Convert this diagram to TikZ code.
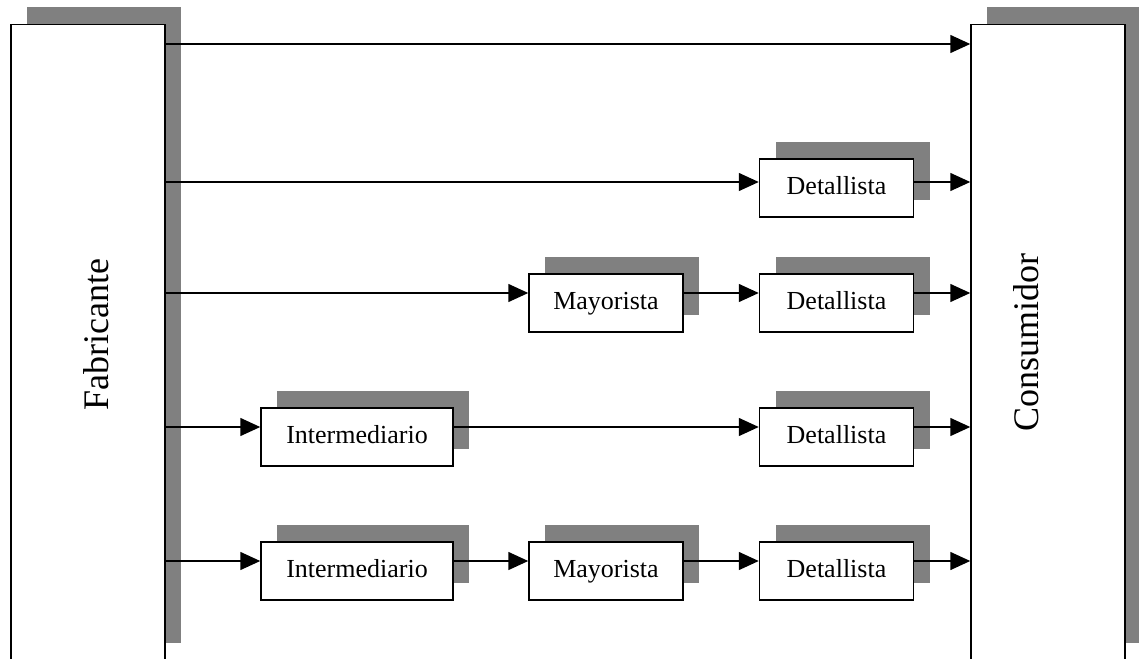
\documentclass[tikz,border=0pt]{standalone}
\usepackage{fontspec}
\setmainfont{Liberation Serif}
\usetikzlibrary{arrows.meta,shadows}
\definecolor{shadowgray}{RGB}{128,128,128}
\begin{document}
\begin{tikzpicture}[x=1pt,y=-1pt,
  box/.style={draw=black, line width=1.5pt, fill=white, inner sep=0pt,
    font=\fontsize{26}{30}\selectfont,
    drop shadow={shadow xshift=16pt, shadow yshift=17pt, fill=shadowgray, opacity=1, draw=none}},
  smallbox/.style={box, minimum width=154pt, minimum height=58pt, text height=18pt, text depth=5pt},
  widebox/.style={box, minimum width=192pt, minimum height=58pt, text height=18pt, text depth=5pt},
  bigbox/.style={box, minimum width=154pt, minimum height=635.5pt, font=\fontsize{36}{40}\selectfont},
  arr/.style={line width=1.5pt, -{Triangle[length=20pt,width=18pt]}},
]
\useasboundingbox (0,0) rectangle (1139,658);

\node[bigbox] (fab) at (88,342.25) {\hspace*{16pt}\rotatebox{90}{\hspace*{16pt}Fabricante}};
\node[bigbox] (cons) at (1048,342.25) {\rotatebox{90}{Consumidor}\hspace*{44pt}};

\node[smallbox] (det2) at (836.5,188) {Detallista};

\node[smallbox] (may3) at (606,303) {Mayorista};
\node[smallbox] (det3) at (836.5,303) {Detallista};

\node[widebox] (int4) at (357,437) {Intermediario};
\node[smallbox] (det4) at (836.5,437) {Detallista};

\node[widebox] (int5) at (357,571) {Intermediario};
\node[smallbox] (may5) at (606,571) {Mayorista};
\node[smallbox] (det5) at (836.5,571) {Detallista};

\coordinate (r1) at (0,44);
\coordinate (r2) at (0,182);
\coordinate (r3) at (0,293);
\coordinate (r4) at (0,427);
\coordinate (r5) at (0,561);

\draw[arr] (fab.east |- r1) -- (cons.west |- r1);

\draw[arr] (fab.east |- r2) -- (det2.west |- r2);
\draw[arr] (det2.east |- r2) -- (cons.west |- r2);

\draw[arr] (fab.east |- r3) -- (may3.west |- r3);
\draw[arr] (may3.east |- r3) -- (det3.west |- r3);
\draw[arr] (det3.east |- r3) -- (cons.west |- r3);

\draw[arr] (fab.east |- r4) -- (int4.west |- r4);
\draw[arr] (int4.east |- r4) -- (det4.west |- r4);
\draw[arr] (det4.east |- r4) -- (cons.west |- r4);

\draw[arr] (fab.east |- r5) -- (int5.west |- r5);
\draw[arr] (int5.east |- r5) -- (may5.west |- r5);
\draw[arr] (may5.east |- r5) -- (det5.west |- r5);
\draw[arr] (det5.east |- r5) -- (cons.west |- r5);
\end{tikzpicture}
\end{document}
